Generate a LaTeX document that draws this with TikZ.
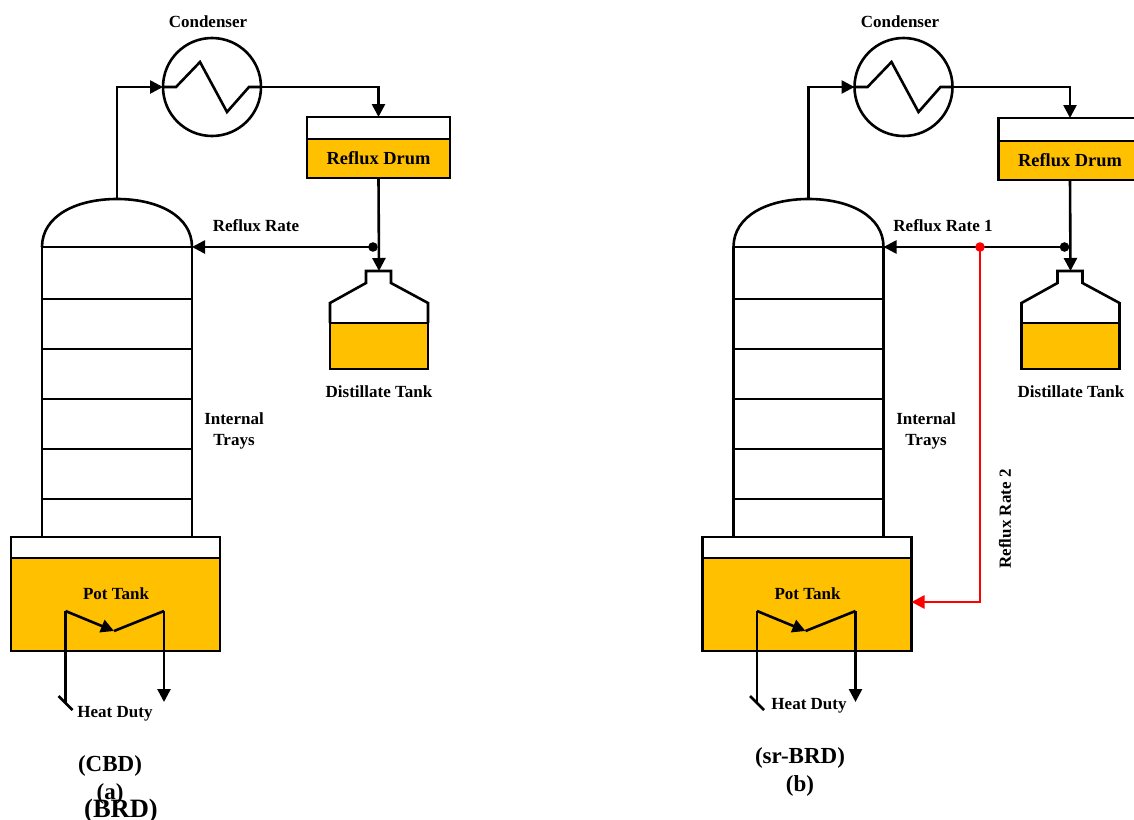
\documentclass[tikz,border=0pt]{standalone}
\usepackage{fontspec}
\setmainfont{Liberation Serif}
\usetikzlibrary{arrows.meta}
\definecolor{gold}{RGB}{255,192,0}
\tikzset{
  x=1pt,y=-1pt,
  ln/.style={line width=2.6pt,line join=miter},
  arr/.style={ln,-{Triangle[length=13pt,width=13pt]}},
  box/.style={draw,line width=2.6pt,inner sep=0pt,outer sep=0pt,rectangle},
  lab/.style={inner sep=0pt,font=\fontsize{17}{21}\selectfont\bfseries,align=center},
  captxt/.style={inner sep=0pt,font=\fontsize{23}{28}\selectfont\bfseries,align=center},
}
% #1 = drum shift in y, #2 = drum top height
\newcommand{\panelshapes}[2]{
  % column
  \coordinate (coltop) at (117,199);
  \coordinate (colleft) at (42,247);
  \coordinate (colright) at (192,247);
  \draw[ln] (colleft) .. controls (42,216) and (76,199) .. (coltop)
            .. controls (158,199) and (192,216) .. (colright);
  \draw[ln] (colleft) -- (42,537) (colright) -- (192,537);
  \draw[ln] (colleft) -- (colright);
  \foreach \yy in {299,349,399,449,499} \draw[ln] (42,\yy) -- (192,\yy);
  % pot
  \node[box,fill=white,minimum width=209pt,minimum height=21pt] (pottop) at (115.5,547.5) {};
  \node[box,fill=gold,minimum width=209pt,minimum height=93pt] (pot) at (115.5,604.5) {};
  \coordinate (coilL) at (65.5,611);
  \coordinate (coilM) at (114,631);
  \coordinate (coilR) at (164,611);
  \coordinate (coilLend) at (65.5,703);
  \coordinate (coilRend) at (164,702);
  \draw[arr] (coilL) -- (coilM);
  \draw[ln] (coilM) -- (coilR);
  \draw[ln] (coilLend) -- (coilL);
  \draw[arr] (coilR) -- (coilRend);
  \coordinate (tickA) at (58.5,696);
  \coordinate (tickB) at (72.5,710);
  \draw[ln] (tickA) -- (tickB);
  % condenser
  \node[draw,circle,line width=2.6pt,minimum size=98pt,inner sep=0pt,outer sep=0pt] (cond) at (212,87) {};
  \draw[ln] (cond.west) -- (176,87) -- (200,62) -- (227,112) -- (249,87) -- (cond.east);
  \draw[arr] (coltop) |- (cond.west);
  % drum
  \node[box,fill=white,minimum width=143pt,minimum height=#2pt,anchor=north] (drumtop) at (378.5,117+#1) {};
  \node[box,fill=gold,minimum width=143pt,minimum height=39pt,anchor=north,font=\fontsize{18.4}{22}\selectfont\bfseries] (drum) at (drumtop.south) {Reflux Drum};
  \draw[arr] (cond.east) -| (drumtop.north);
  % tank
  \draw[ln,fill=gold] (330,323) rectangle (428,369);
  \coordinate (tanktop) at (379,271);
  \draw[ln] (330,323) -- (330,303) -- (366,283) -- (366,271) -- (tanktop) -- (391,271) -- (391,283) -- (428,303) -- (428,323);
  \draw[arr] (drum.south) -- (tanktop);
  % reflux
  \coordinate (junc) at (373,247);
  \fill (junc) circle (4.8pt);
  \draw[arr] (junc) -- (colright);
}
\begin{document}
\begin{tikzpicture}
\useasboundingbox (0,0) rectangle (1134,819);
\begin{scope}[name prefix=a-]
  \panelshapes{0}{22}
\end{scope}
\begin{scope}[xshift=691.5pt,name prefix=b-]
  \panelshapes{1}{23}
\end{scope}
% red stream
\coordinate (rdot) at (980,247);
\coordinate (rbend) at (980,602);
\draw[line width=2.6pt,red,-{Triangle[length=13pt,width=13pt]}] (rdot) -- (rbend) -- (b-pot.east |- rbend);
\fill[red] (rdot) circle (4.8pt);
% labels panel a
\node[lab] (la1) at (208,22) {Condenser};
\node[lab] (la2) at (256,226) {Reflux Rate};
\node[lab] (la3) at (379,392) {Distillate Tank};
\node[lab] (la4) at (234,431) {Internal\\Trays};
\node[lab] (la5) at (116,594) {Pot Tank};
\node[lab] (la6) at (115,714) {Heat Duty};
\node[captxt] (la7) at (110,766) {(CBD)};
\node[captxt] (la8) at (110,794) {(a)};
\node[captxt,font=\fontsize{26.5}{30}\selectfont\bfseries] (la9) at (121,811) {(BRD)};
% labels panel b
\node[lab] (lb1) at (900,22) {Condenser};
\node[lab] (lb2) at (943,226) {Reflux Rate 1};
\node[lab] (lb3) at (1071,392) {Distillate Tank};
\node[lab] (lb4) at (926,431) {Internal\\Trays};
\node[lab] (lb5) at (807.5,594) {Pot Tank};
\node[lab] (lb6) at (809,706) {Heat Duty};
\node[lab,rotate=90] (lb7) at (1005,519) {Reflux Rate 2};
\node[captxt] (lb8) at (800,758) {(sr-BRD)};
\node[captxt] (lb9) at (800,786) {(b)};
\end{tikzpicture}
\end{document}
